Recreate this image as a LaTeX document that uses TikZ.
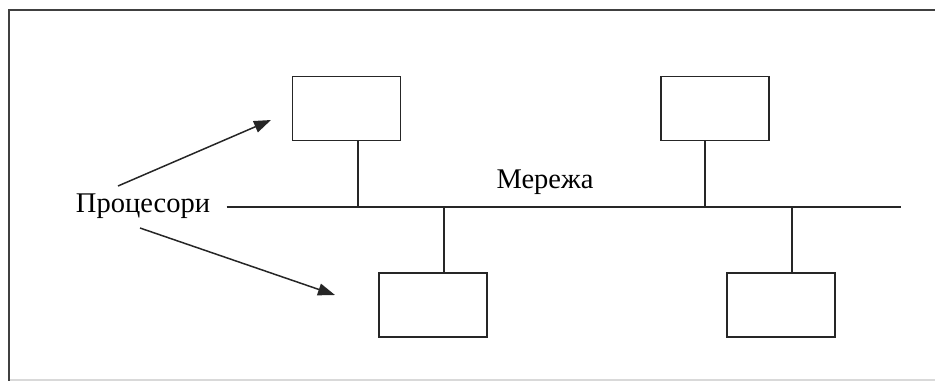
\documentclass[tikz,border=0pt]{standalone}
\usepackage{fontspec}
\setmainfont{Liberation Serif}
\usetikzlibrary{arrows.meta}
\begin{document}
\begin{tikzpicture}[x=1pt,y=-1pt,
  proc/.style={draw=black!85,line width=1.7pt,minimum width=108pt,minimum height=64pt,inner sep=0pt},
  wire/.style={draw=black!85,line width=1.7pt},
  lbl/.style={font=\fontsize{28.5}{32}\selectfont,inner sep=0pt},
  pointer/.style={draw=black!85,line width=1.5pt,-{Triangle[length=17pt,width=12pt]}}]
\useasboundingbox (0,0) rectangle (935,381);
% frame
\draw[black!75,line width=2pt] (8,10) -- (935,10);
\draw[black!75,line width=2pt] (9,9) -- (9,381);
\draw[black!15,line width=1.5pt] (10,380) -- (935,380);
% boxes
\node[proc] (b1) at (346.5,108.5) {};
\node[proc] (b2) at (715.3,108.5) {};
\node[proc] (b3) at (433,304.8) {};
\node[proc] (b4) at (781,304.8) {};
% bus
\coordinate (busL) at (226.7,206.7);
\coordinate (busR) at (901,206.7);
\draw[wire] (busL) -- (busR);
\coordinate (v1) at (357.7,206.7);
\coordinate (v2) at (705.3,206.7);
\coordinate (v3) at (444,206.7);
\coordinate (v4) at (791.7,206.7);
\draw[wire] (b1.south -| v1) -- (v1);
\draw[wire] (b2.south -| v2) -- (v2);
\draw[wire] (b3.north -| v3) -- (v3);
\draw[wire] (b4.north -| v4) -- (v4);
% labels
\node[lbl,anchor=base] (proclbl) at (143,212.5) {Процесори};
\node[lbl,anchor=base] (netlbl) at (545,188) {Мережа};
% arrows
\coordinate (a1s) at (118,186);
\coordinate (a1e) at (271,120);
\coordinate (a2s) at (140,228);
\coordinate (a2e) at (335,295);
\draw[pointer] (a1s) -- (a1e);
\draw[pointer] (a2s) -- (a2e);
\end{tikzpicture}
\end{document}
